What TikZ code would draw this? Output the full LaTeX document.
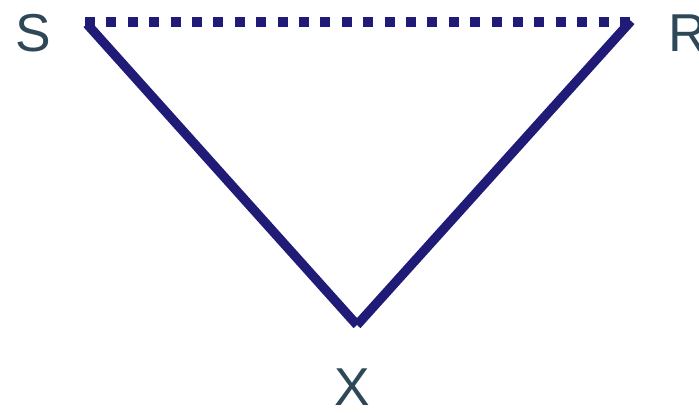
\documentclass[tikz,border=0pt]{standalone}
\usepackage{fontspec}
\setmainfont{Liberation Sans}
\definecolor{labelcol}{RGB}{46,72,88}
\definecolor{linecol}{RGB}{33,27,120}
\begin{document}
\begin{tikzpicture}[x=0.75pt,y=-0.75pt,
  lbl/.style={text=labelcol,font=\fontsize{40}{40}\selectfont,inner sep=0pt},
  edge/.style={draw=linecol,line width=7pt},
  dotedge/.style={draw=linecol,line width=7.5pt,dash pattern=on 7.5pt off 8.55pt}]
\useasboundingbox (0,0) rectangle (699,412);
\coordinate (s) at (85,22);
\coordinate (r) at (632,22);
\coordinate (x) at (357,325);
\coordinate (sl) at (87,24);
\coordinate (rl) at (631,21);
\node[lbl] (S) at (33,33) {S};
\node[lbl] (R) at (688,33) {R};
\node[lbl] (X) at (352,387) {X};
\draw[dotedge] (s) -- (r);
\draw[edge] (sl) -- (x);
\draw[edge] (x) -- (rl);
\end{tikzpicture}
\end{document}
